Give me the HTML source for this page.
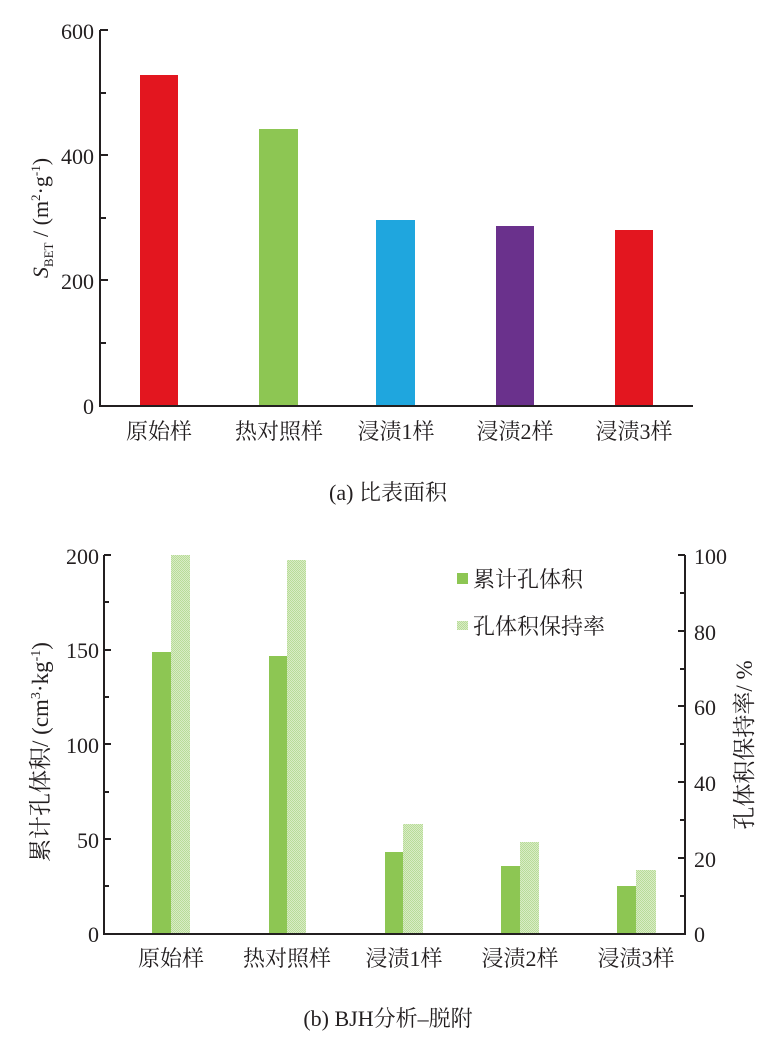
<!DOCTYPE html>
<html><head><meta charset="utf-8"><style>
html,body{margin:0;padding:0;background:#fff}
svg text{font-family:"Liberation Serif","Noto Serif CJK SC",serif;fill:#231f20}
</style></head><body>
<svg width="777" height="1041" viewBox="0 0 777 1041" xmlns="http://www.w3.org/2000/svg">
<defs>
<pattern id="h" width="2" height="2" patternUnits="userSpaceOnUse">
<rect width="2" height="2" fill="#d9ecc6"/><rect width="1" height="1" fill="#b8dc98"/><rect x="1" y="1" width="1" height="1" fill="#b8dc98"/>
</pattern>
</defs>
<g stroke="#231f20" stroke-width="2" fill="none">
<path d="M100 30 V406 H693"/>
<path d="M100 30h8M100 93h6M100 155h8M100 218h6M100 280h8M100 343h6"/>
</g>
<rect x="140" y="75" width="38" height="330" fill="#e3161f"/>
<rect x="259" y="129" width="39" height="276" fill="#8dc653"/>
<rect x="376" y="220" width="39" height="185" fill="#1fa6de"/>
<rect x="496" y="226" width="38" height="179" fill="#6a318c"/>
<rect x="615" y="230" width="38" height="175" fill="#e3161f"/>
<g font-size="22" text-anchor="end">
<text x="94" y="39">600</text><text x="94" y="164">400</text><text x="94" y="289">200</text><text x="94" y="414">0</text>
</g>
<g font-size="22" text-anchor="middle">
<text x="159" y="439">原始样</text><text x="279" y="439">热对照样</text><text x="396" y="439">浸渍1样</text><text x="515" y="439">浸渍2样</text><text x="634" y="439">浸渍3样</text>
</g>
<text transform="translate(48 218) rotate(-90)" font-size="22" text-anchor="middle"><tspan font-style="italic">S</tspan><tspan font-size="13" dy="5">BET</tspan><tspan dy="-5"> / (m</tspan><tspan font-size="13" dy="-8">2</tspan><tspan dy="8">·g</tspan><tspan font-size="13" dy="-8">-1</tspan><tspan dy="8">)</tspan></text>
<text x="388" y="500" font-size="22" text-anchor="middle">(a)  比表面积</text>

<g stroke="#231f20" stroke-width="2" fill="none">
<path d="M104 555 V934 H685 V555"/>
<path d="M104 555h7M104 602h5M104 650h7M104 697h5M104 744h7M104 792h5M104 839h7M104 886h5"/>
<path d="M685 555h-7M685 593h-5M685 631h-7M685 669h-5M685 706h-7M685 744h-5M685 782h-7M685 820h-5M685 858h-7M685 896h-5"/>
</g>
<rect x="152" y="652" width="19" height="281" fill="#8dc653"/><rect x="171" y="555" width="19" height="378" fill="url(#h)"/>
<rect x="269" y="656" width="18" height="277" fill="#8dc653"/><rect x="287" y="560" width="19" height="373" fill="url(#h)"/>
<rect x="385" y="852" width="18" height="81" fill="#8dc653"/><rect x="403" y="824" width="20" height="109" fill="url(#h)"/>
<rect x="501" y="866" width="19" height="67" fill="#8dc653"/><rect x="520" y="842" width="19" height="91" fill="url(#h)"/>
<rect x="617" y="886" width="19" height="47" fill="#8dc653"/><rect x="636" y="870" width="20" height="63" fill="url(#h)"/>
<g font-size="22" text-anchor="end">
<text x="99" y="564">200</text><text x="99" y="658">150</text><text x="99" y="753">100</text><text x="99" y="848">50</text><text x="99" y="942">0</text>
</g>
<g font-size="22">
<text x="694" y="564">100</text><text x="694" y="640">80</text><text x="694" y="715">60</text><text x="694" y="791">40</text><text x="694" y="867">20</text><text x="694" y="942">0</text>
</g>
<g font-size="22" text-anchor="middle">
<text x="171" y="966">原始样</text><text x="287" y="966">热对照样</text><text x="404" y="966">浸渍1样</text><text x="520" y="966">浸渍2样</text><text x="636" y="966">浸渍3样</text>
</g>
<rect x="457" y="573" width="11" height="11" fill="#8dc653"/>
<text x="473" y="587" font-size="22">累计孔体积</text>
<rect x="457" y="621" width="11" height="9" fill="url(#h)"/>
<text x="473" y="634" font-size="22">孔体积保持率</text>
<text transform="translate(48 752) rotate(-90)" font-size="23" text-anchor="middle">累计孔体积/ (cm<tspan font-size="14" dy="-8">3</tspan><tspan dy="8">·kg</tspan><tspan font-size="14" dy="-8">-1</tspan><tspan dy="8">)</tspan></text>
<text transform="translate(752 745) rotate(-90)" font-size="23" text-anchor="middle">孔体积保持率/ %</text>
<text x="388" y="1026" font-size="22" text-anchor="middle">(b)  BJH分析–脱附</text>
</svg>
</body></html>
